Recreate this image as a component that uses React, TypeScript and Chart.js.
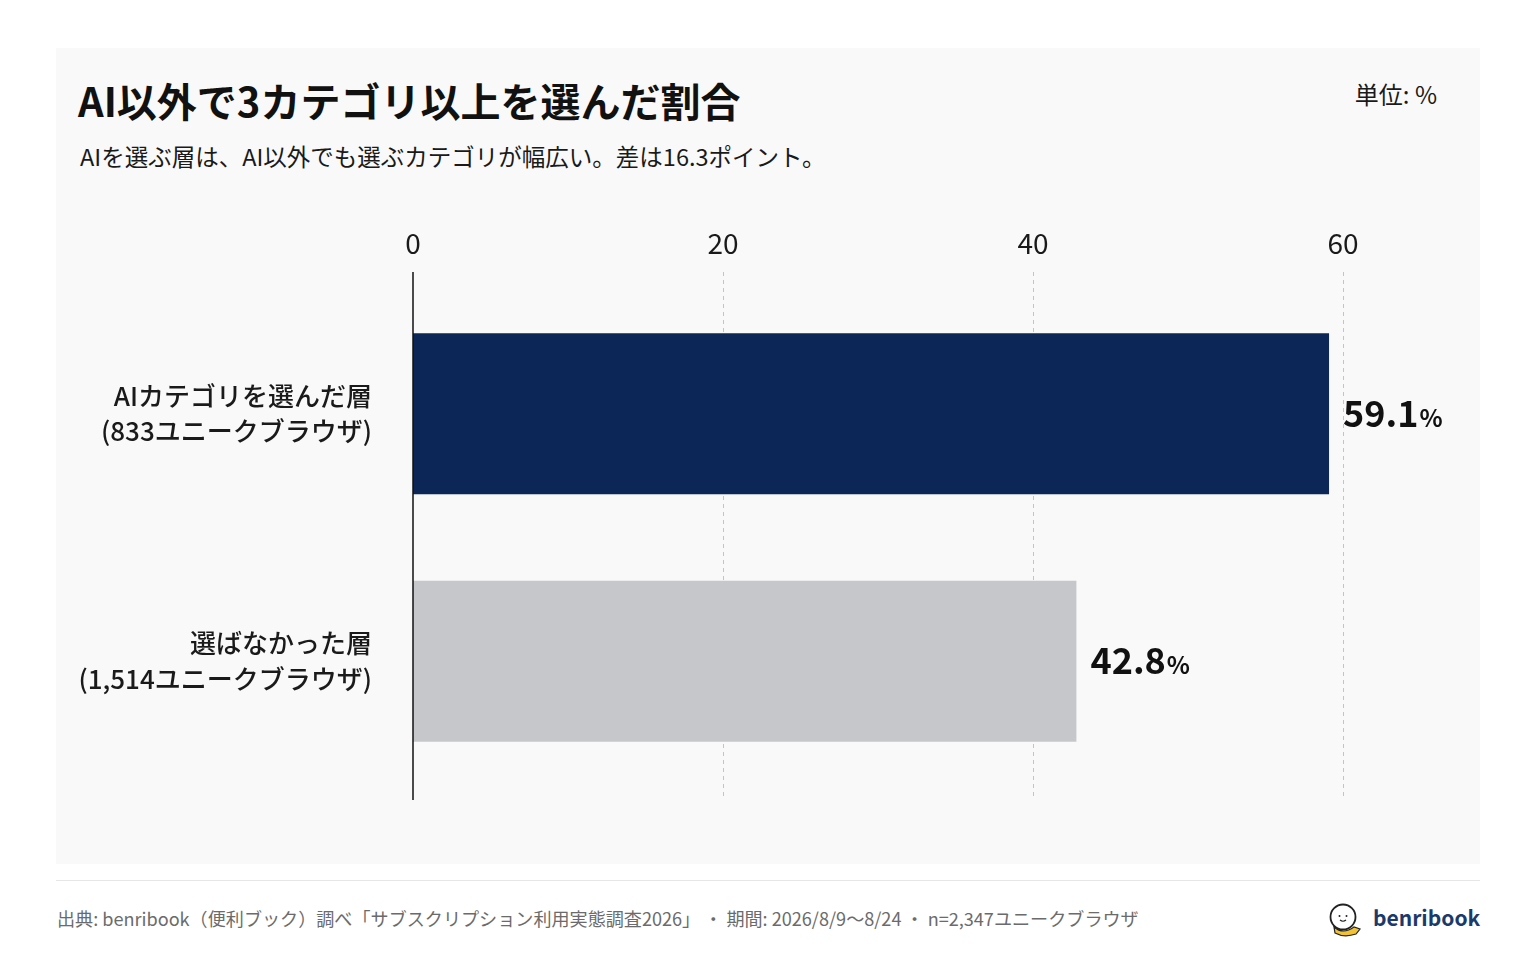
import React, { useEffect, useRef } from 'react';
import { Chart, registerables } from 'chart.js';

Chart.register(...registerables);

const FONT = '"Noto Sans CJK JP", "Noto Sans", sans-serif';

// data
const groupNames = ['AIカテゴリを選んだ層', '選ばなかった層'];
const groupSizes = ['(833ユニークブラウザ)', '(1,514ユニークブラウザ)'];
const shares = [59.1, 42.8];
const barColors = ['#0b2657', '#c6c7cb'];
const axisMax = 60;
const axisStep = 20;

const refLines = {
  id: 'refLines',
  beforeDatasetsDraw(chart: any) {
    const { ctx, chartArea, scales } = chart;
    const x = scales.x;
    ctx.save();
    ctx.setLineDash([4, 4]);
    ctx.strokeStyle = '#c4c4c4';
    ctx.lineWidth = 1;
    x.ticks.forEach((t: any) => {
      if (t.value === 0) return;
      const px = Math.round(x.getPixelForValue(t.value)) + 0.5;
      ctx.beginPath();
      ctx.moveTo(px, chartArea.top - 18);
      ctx.lineTo(px, chartArea.bottom + 15);
      ctx.stroke();
    });
    ctx.restore();
  },
  afterDatasetsDraw(chart: any) {
    const { ctx, chartArea, scales } = chart;
    const px = scales.x.getPixelForValue(0);
    ctx.save();
    ctx.strokeStyle = '#111';
    ctx.lineWidth = 1.5;
    ctx.beginPath();
    ctx.moveTo(px, chartArea.top - 18);
    ctx.lineTo(px, chartArea.bottom + 15);
    ctx.stroke();

    // value labels
    const meta = chart.getDatasetMeta(0);
    meta.data.forEach((bar: any, i: number) => {
      const num = shares[i].toFixed(1);
      const x0 = bar.x + 14;
      const y0 = bar.y + 13;
      ctx.fillStyle = '#111';
      ctx.textBaseline = 'alphabetic';
      ctx.textAlign = 'left';
      ctx.font = `bold 36px ${FONT}`;
      ctx.fillText(num, x0, y0);
      const w = ctx.measureText(num).width;
      ctx.font = `bold 24px ${FONT}`;
      ctx.fillText('%', x0 + w + 1, y0);
    });
    ctx.restore();
  },
};

const ShareChart: React.FC = () => {
  const chartRef = useRef<HTMLCanvasElement | null>(null);
  const chartInstance = useRef<Chart | null>(null);

  useEffect(() => {
    if (!chartRef.current) return;
    const ctx = chartRef.current.getContext('2d');
    if (!ctx) return;
    if (chartInstance.current) chartInstance.current.destroy();

    chartInstance.current = new Chart(ctx, {
      type: 'bar',
      data: {
        labels: groupNames.map((n, i) => [n, groupSizes[i]]),
        datasets: [
          {
            data: shares,
            backgroundColor: barColors,
            borderWidth: 0,
            barPercentage: 0.65,
            categoryPercentage: 1,
          },
        ],
      },
      options: {
        indexAxis: 'y',
        responsive: false,
        animation: false,
        layout: { padding: { left: 0, right: 137, top: 0, bottom: 35 } },
        plugins: {
          legend: { display: false },
          tooltip: { enabled: false },
        },
        scales: {
          x: {
            position: 'top',
            min: 0,
            max: axisMax,
            grid: { display: false, drawTicks: false },
            border: { display: false },
            ticks: {
              stepSize: axisStep,
              padding: 30,
              color: '#1a1a1a',
              font: { family: FONT, size: 28 },
            },
            afterFit(scale: any) {
              scale.height = 90;
              scale.paddingLeft = 0;
              scale.paddingRight = 0;
            },
          },
          y: {
            grid: { display: false, drawTicks: false },
            border: { display: false },
            ticks: {
              padding: 41,
              color: '#1a1a1a',
              font: { family: FONT, size: 26, weight: 500, lineHeight: 1.36 },
            },
            afterFit(scale: any) {
              scale.width = 357;
              scale.paddingTop = 0;
              scale.paddingBottom = 0;
            },
          },
        },
      },
      plugins: [refLines],
    });

    return () => {
      if (chartInstance.current) {
        chartInstance.current.destroy();
        chartInstance.current = null;
      }
    };
  }, []);

  return (
    <canvas
      ref={chartRef}
      width={1424}
      height={620}
      style={{ position: 'absolute', left: 56, top: 200 }}
    ></canvas>
  );
};

const Logo: React.FC = () => (
  <svg width={36} height={36} viewBox="0 0 36 36" style={{ position: 'absolute', left: 1326, top: 901 }}>
    <path d="M8 26 Q17 34 28 26 L34 28 L30 33 Q18 37 9 32 Z" fill="#f2c230" stroke="#222" strokeWidth={1.2} />
    <circle cx={17} cy={16} r={12.5} fill="#fff" stroke="#222" strokeWidth={1.8} />
    <circle cx={13.5} cy={15} r={1} fill="#222" />
    <circle cx={20.5} cy={15} r={1} fill="#222" />
    <path d="M14 19 Q17 21.5 20 19" fill="none" stroke="#222" strokeWidth={1.2} />
  </svg>
);

const App: React.FC = () => {
  return (
    <div
      style={{
        position: 'fixed',
        left: 0,
        top: 0,
        width: 1536,
        height: 960,
        background: '#ffffff',
        fontFamily: FONT,
        overflow: 'hidden',
      }}
    >
      <div style={{ position: 'absolute', left: 56, top: 48, width: 1424, height: 816, background: '#f9f9f9' }} />
      <div
        style={{
          position: 'absolute',
          left: 78,
          top: 80,
          fontSize: 40,
          fontWeight: 700,
          lineHeight: 1,
          color: '#111',
          whiteSpace: 'nowrap',
        }}
      >
        AI以外で3カテゴリ以上を選んだ割合
      </div>
      <div
        style={{
          position: 'absolute',
          left: 80,
          top: 145,
          fontSize: 23.5,
          lineHeight: 1,
          color: '#1a1a1a',
          whiteSpace: 'nowrap',
        }}
      >
        AIを選ぶ層は、AI以外でも選ぶカテゴリが幅広い。差は16.3ポイント。
      </div>
      <div
        style={{
          position: 'absolute',
          right: 1536 - 1437,
          top: 82,
          fontSize: 24,
          lineHeight: 1,
          color: '#1a1a1a',
          whiteSpace: 'nowrap',
        }}
      >
        単位: %
      </div>
      <ShareChart />
      <div style={{ position: 'absolute', left: 56, top: 880, width: 1424, height: 1, background: '#e6e6e6' }} />
      <div
        style={{
          position: 'absolute',
          left: 57,
          top: 909,
          fontSize: 18.1,
          lineHeight: 1,
          color: '#6b6b6b',
          whiteSpace: 'nowrap',
        }}
      >
        出典: benribook（便利ブック）調べ「サブスクリプション利用実態調査2026」 ・ 期間: 2026/8/9〜8/24 ・ n=2,347ユニークブラウザ
      </div>
      <Logo />
      <div
        style={{
          position: 'absolute',
          left: 1373,
          top: 907,
          fontSize: 21,
          fontWeight: 700,
          lineHeight: 1,
          color: '#1b3a6b',
          whiteSpace: 'nowrap',
        }}
      >
        benribook
      </div>
    </div>
  );
};

export default App;
